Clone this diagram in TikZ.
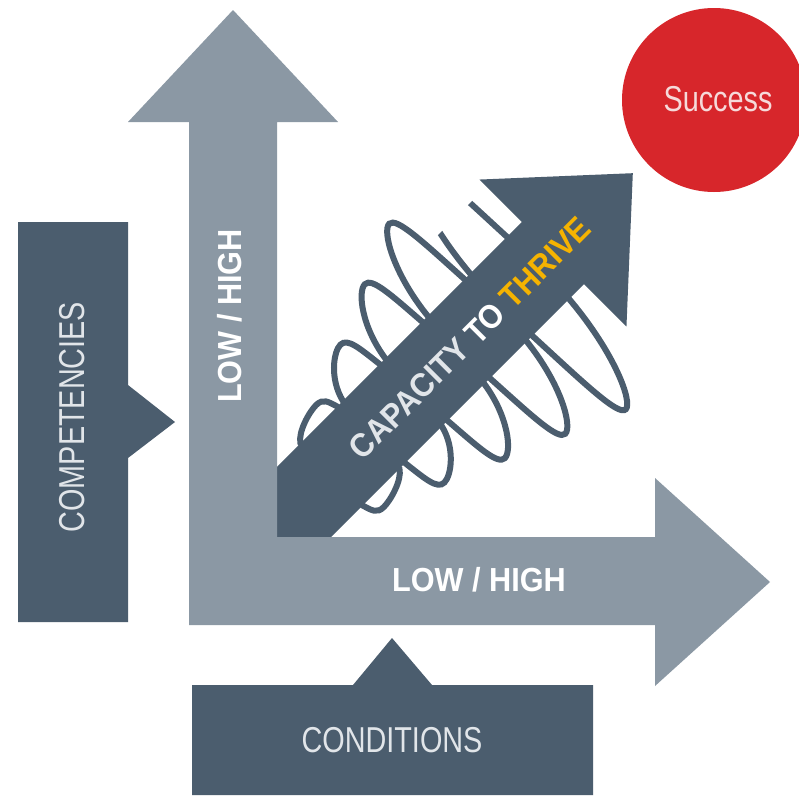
\documentclass[tikz,border=0pt]{standalone}
\usepackage{fontspec}
\setmainfont{Liberation Sans}
\newfontfamily\narrowfont[FakeStretch=0.8]{Liberation Sans}
\newfontfamily\narrowbold[FakeStretch=0.92]{Liberation Sans}
\usetikzlibrary{calc}
\definecolor{slate}{HTML}{4B5D6E}
\definecolor{steel}{HTML}{8B98A4}
\definecolor{signal}{HTML}{D7262B}
\definecolor{thrive}{HTML}{F5B301}
\definecolor{pale}{HTML}{E1E5E9}
\definecolor{blush}{HTML}{F6DADA}

\tikzset{
  coil/.style={slate, line width=4.5pt},
  axislabel/.style={text=white, font=\narrowbold\bfseries\fontsize{25}{25}\selectfont, inner sep=0pt},
  boxlabel/.style={text=pale, font=\narrowfont\fontsize{27}{27}\selectfont, inner sep=0pt},
}

\begin{document}
\begin{tikzpicture}[x=0.75pt, y=-0.75pt]
  \useasboundingbox (0,0) rectangle (799,796);
  \fill[white] (0,0) rectangle (799,796);

  % capacity arrow with the coil round it
  \begin{scope}
    \clip (0,0) rectangle (642,796);
    \begin{scope}[shift={(403,403)}, rotate=45]
      \begin{scope}
        \clip (-300,-400) -- (140,-400) -- (140,-94) -- (400,-94) -- (400,400) -- (-300,400) -- cycle;
        \foreach \k in {0,...,4} {
          \pgfmathsetmacro{\uc}{-75+60*\k}
          \pgfmathsetmacro{\rr}{60+25.5*\k}
          \pgfmathsetmacro{\hh}{\rr-44}
          \draw[coil] (\uc-26,-30) -- (\uc-26,-44) .. controls (\uc-20,-44-0.6*\hh) and (\uc+2,-\rr) .. (\uc+12,-\rr)
            .. controls (\uc+22,-\rr) and (\uc+23,-44-0.6*\hh) .. (\uc+26,-44) -- (\uc+26,-30);
          \draw[coil] (\uc-26,30) -- (\uc-26,44) .. controls (\uc-23,44+0.6*\hh) and (\uc-22,\rr) .. (\uc-12,\rr)
            .. controls (\uc-2,\rr) and (\uc+20,44+0.6*\hh) .. (\uc+26,44) -- (\uc+26,30);
        }
      \end{scope}
      \draw[white, line width=6pt] (212,-104) -- (325,0) -- (212,104) -- cycle;
      \fill[slate] (-230,-44) -- (212,-44) -- (212,-104) -- (325,0) -- (212,104) -- (212,44) -- (-230,44) -- cycle;
    \end{scope}
  \end{scope}

  % the two low/high axes
  \fill[steel] (189,625) -- (189,122) -- (128,122) -- (233,10) -- (338,122) -- (277,122)
    -- (277,537) -- (655,537) -- (655,478) -- (770,582) -- (655,686) -- (655,625) -- cycle;

  % competencies and conditions
  \fill[slate] (18,222) -- (128,222) -- (128,385) -- (175,422) -- (128,458) -- (128,622) -- (18,622) -- cycle;
  \fill[slate] (192,685) -- (353,685) -- (392,638) -- (432,685) -- (593,685) -- (593,795) -- (192,795) -- cycle;

  \node[circle, fill=signal, minimum size=138pt, inner sep=0pt] (success) at (714,100) {};
  \node[text=blush, font=\narrowfont\fontsize{27}{27}\selectfont, inner sep=0pt] (successlabel) at (718,99) {Success};

  \node[axislabel, rotate=90] (ylabel) at (230,316) {LOW / HIGH};
  \node[axislabel] (xlabel) at (479,580) {LOW / HIGH};
  \node[boxlabel, rotate=90] (competencies) at (72,417) {COMPETENCIES};
  \node[boxlabel] (conditions) at (392,740) {CONDITIONS};
  \node[axislabel, rotate=45, text=pale] (capacity) at (470,338)
    {CAPACITY \textcolor{white}{TO} \textcolor{thrive}{THRIVE}};
\end{tikzpicture}
\end{document}
